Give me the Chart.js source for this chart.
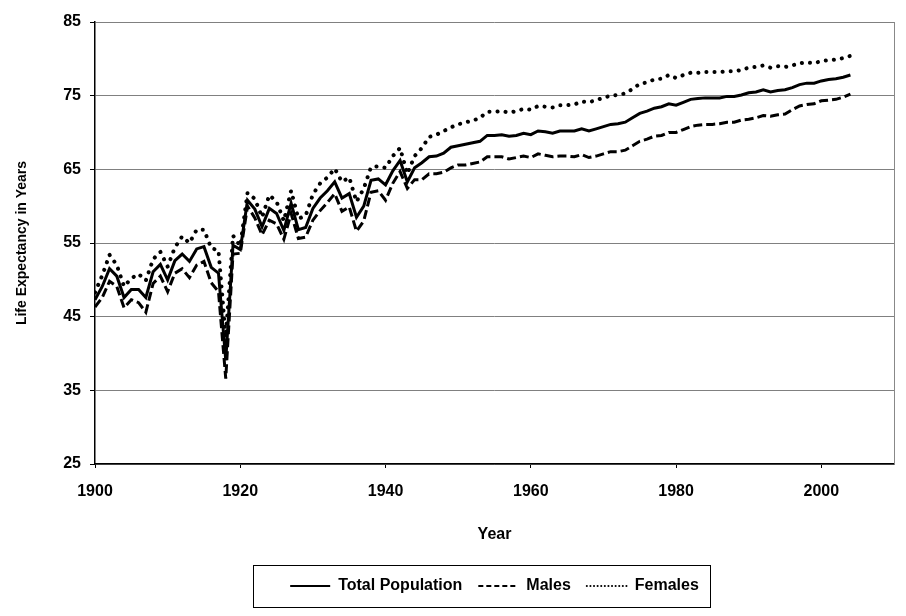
<!DOCTYPE html>
<html>
<head>
<meta charset="utf-8">
<script src="https://cdn.jsdelivr.net/npm/chart.js@4"></script>
<style>
  html, body { margin: 0; padding: 0; background: #fff; }
  #wrap { width: 906px; height: 616px; }
</style>
</head>
<body>
<div id="wrap"><canvas id="grafico" width="906" height="616"></canvas></div>
<script>
// Dados: expectativa de vida nos EUA, 1900-2004
const anos = [];
for (let a = 1900; a <= 2004; a++) anos.push(a);

const total = [
  47.3, 49.1, 51.5, 50.5, 47.6, 48.7, 48.7, 47.6, 51.1, 52.1,
  50.0, 52.6, 53.5, 52.5, 54.2, 54.5, 51.7, 50.9, 39.1, 54.7,
  54.1, 60.8, 59.6, 57.2, 59.7, 59.0, 56.7, 60.4, 56.8, 57.1,
  59.7, 61.1, 62.1, 63.3, 61.1, 61.7, 58.5, 60.0, 63.5, 63.7,
  62.9, 64.8, 66.2, 63.3, 65.2, 65.9, 66.7, 66.8, 67.2, 68.0,
  68.2, 68.4, 68.6, 68.8, 69.6, 69.6, 69.7, 69.5, 69.6, 69.9,
  69.7, 70.2, 70.1, 69.9, 70.2, 70.2, 70.2, 70.5, 70.2, 70.5,
  70.8, 71.1, 71.2, 71.4, 72.0, 72.6, 72.9, 73.3, 73.5, 73.9,
  73.7, 74.1, 74.5, 74.6, 74.7, 74.7, 74.7, 74.9, 74.9, 75.1,
  75.4, 75.5, 75.8, 75.5, 75.7, 75.8, 76.1, 76.5, 76.7, 76.7,
  77.0, 77.2, 77.3, 77.5, 77.8
];
const homens = [
  46.3, 47.6, 49.8, 49.1, 46.2, 47.3, 46.9, 45.6, 49.5, 50.5,
  48.4, 50.9, 51.5, 50.3, 52.0, 52.5, 49.6, 48.4, 36.6, 53.5,
  53.6, 60.0, 58.4, 56.1, 58.1, 57.6, 55.5, 59.0, 55.6, 55.8,
  58.1, 59.4, 60.5, 61.7, 59.3, 59.9, 56.6, 58.0, 61.9, 62.1,
  60.8, 63.1, 64.7, 62.4, 63.6, 63.6, 64.4, 64.4, 64.6, 65.2,
  65.6, 65.6, 65.8, 66.0, 66.7, 66.7, 66.7, 66.4, 66.6, 66.8,
  66.6, 67.1, 66.9, 66.7, 66.8, 66.8, 66.7, 67.0, 66.6, 66.8,
  67.1, 67.4, 67.4, 67.6, 68.2, 68.8, 69.1, 69.5, 69.6, 70.0,
  70.0, 70.4, 70.8, 71.0, 71.1, 71.1, 71.2, 71.4, 71.4, 71.7,
  71.8, 72.0, 72.3, 72.2, 72.4, 72.5, 73.1, 73.6, 73.8, 73.9,
  74.3, 74.4, 74.5, 74.8, 75.2
];
const mulheres = [
  48.3, 50.6, 53.4, 52.0, 49.1, 50.2, 50.8, 49.9, 52.8, 53.8,
  51.8, 54.4, 55.9, 55.0, 56.8, 56.8, 54.3, 54.0, 42.2, 56.0,
  54.6, 61.8, 61.0, 58.5, 61.5, 60.6, 58.0, 62.1, 58.3, 58.7,
  61.6, 63.1, 63.9, 65.1, 63.3, 63.9, 60.6, 62.4, 65.3, 65.4,
  65.2, 66.8, 67.9, 64.4, 66.8, 67.9, 69.4, 69.7, 70.2, 70.7,
  71.1, 71.4, 71.6, 72.0, 72.8, 72.8, 72.9, 72.7, 72.9, 73.2,
  73.1, 73.6, 73.5, 73.4, 73.7, 73.7, 73.8, 74.2, 74.1, 74.4,
  74.7, 75.0, 75.1, 75.3, 75.9, 76.6, 76.8, 77.2, 77.3, 77.8,
  77.4, 77.8, 78.1, 78.1, 78.2, 78.2, 78.2, 78.3, 78.3, 78.5,
  78.8, 78.9, 79.1, 78.8, 79.0, 78.9, 79.1, 79.4, 79.5, 79.4,
  79.7, 79.8, 79.9, 80.1, 80.4
];

const rotulos = ['Total Population', 'Males', 'Females'];
const ticksX = [1900, 1920, 1940, 1960, 1980, 2000];

// tracejado usado na legenda (mais fino que no gráfico)
const tracosLegenda = [[], [5, 3], [0.1, 3.5]];

const pontos = (valores) => valores.map((v, i) => ({ x: anos[i], y: v }));

// Borda da legenda e borda direita da área do gráfico
const bordas = {
  id: 'bordas',
  afterDraw(chart) {
    const ctx = chart.ctx;
    const area = chart.chartArea;
    ctx.save();
    ctx.strokeStyle = '#888';
    ctx.lineWidth = 1;
    ctx.beginPath();
    ctx.moveTo(Math.round(area.right) + 0.5, area.top);
    ctx.lineTo(Math.round(area.right) + 0.5, area.bottom);
    ctx.stroke();

    const caixas = chart.legend.legendHitBoxes;
    if (caixas && caixas.length) {
      const x0 = Math.min(...caixas.map(c => c.left)) - 37;
      const x1 = Math.max(...caixas.map(c => c.left + c.width)) + 11;
      const yc = caixas[0].top + caixas[0].height / 2;
      ctx.strokeStyle = '#000';
      ctx.strokeRect(Math.round(x0) + 0.5, Math.round(yc - 21) + 0.5, Math.round(x1 - x0), 42);
    }
    ctx.restore();
  }
};

const fonte = 'Arial, "Liberation Sans", sans-serif';
const fonteEixo = { family: fonte, size: 16, weight: 'bold' };

new Chart(document.getElementById('grafico'), {
  type: 'line',
  data: {
    datasets: [
      {
        label: rotulos[0],
        data: pontos(total),
        borderColor: '#000',
        backgroundColor: '#000',
        borderWidth: 3,
        pointRadius: 0,
        pointStyle: 'line',
        tension: 0
      },
      {
        label: rotulos[1],
        data: pontos(homens),
        borderColor: '#000',
        backgroundColor: '#000',
        borderWidth: 3,
        borderDash: [9, 4],
        pointRadius: 0,
        pointStyle: 'line',
        tension: 0
      },
      {
        label: rotulos[2],
        data: pontos(mulheres),
        borderColor: '#000',
        backgroundColor: '#000',
        borderWidth: 4,
        borderDash: [0.1, 8],
        borderCapStyle: 'round',
        pointRadius: 0,
        pointStyle: 'line',
        tension: 0
      }
    ]
  },
  options: {
    responsive: false,
    animation: false,
    events: [],
    layout: { padding: { top: 22, right: 12, left: 0, bottom: 12 } },
    scales: {
      x: {
        type: 'linear',
        min: 1900,
        max: 2010,
        afterBuildTicks: (s) => { s.ticks = ticksX.map(v => ({ value: v })); },
        afterFit: (s) => { s.height = 98; },
        ticks: { color: '#000', font: fonteEixo, padding: 14, maxRotation: 0, callback: (v) => String(v) },
        grid: { drawOnChartArea: false, tickLength: 4, color: '#000' },
        border: { color: '#000', width: 1.5 },
        title: { display: true, text: 'Year', color: '#000', font: fonteEixo, padding: { top: 18, bottom: 18 } }
      },
      y: {
        min: 25,
        max: 85,
        afterFit: (s) => { s.width = 95; },
        ticks: { stepSize: 10, color: '#000', font: fonteEixo, padding: 9 },
        grid: { color: '#808080', tickLength: 5, tickColor: '#000' },
        border: { color: '#000', width: 1.5 },
        title: { display: true, text: 'Life Expectancy in Years', color: '#000', font: { family: fonte, size: 14, weight: 'bold' }, padding: { top: 14 } }
      }
    },
    plugins: {
      legend: {
        position: 'bottom',
        fullSize: false,
        labels: {
          usePointStyle: true,
          pointStyleWidth: 40,
          color: '#000',
          padding: 16,
          font: { family: fonte, size: 16, weight: 'bold' },
          generateLabels: (chart) => {
            const itens = Chart.defaults.plugins.legend.labels.generateLabels(chart);
            return itens.map((it, i) => Object.assign(it, {
              pointStyle: 'line',
              lineWidth: 2,
              lineDash: tracosLegenda[i],
              lineCap: i === 2 ? 'round' : 'butt',
              strokeStyle: '#000'
            }));
          }
        }
      },
      tooltip: { enabled: false }
    }
  },
  plugins: [bordas]
});
</script>
</body>
</html>
